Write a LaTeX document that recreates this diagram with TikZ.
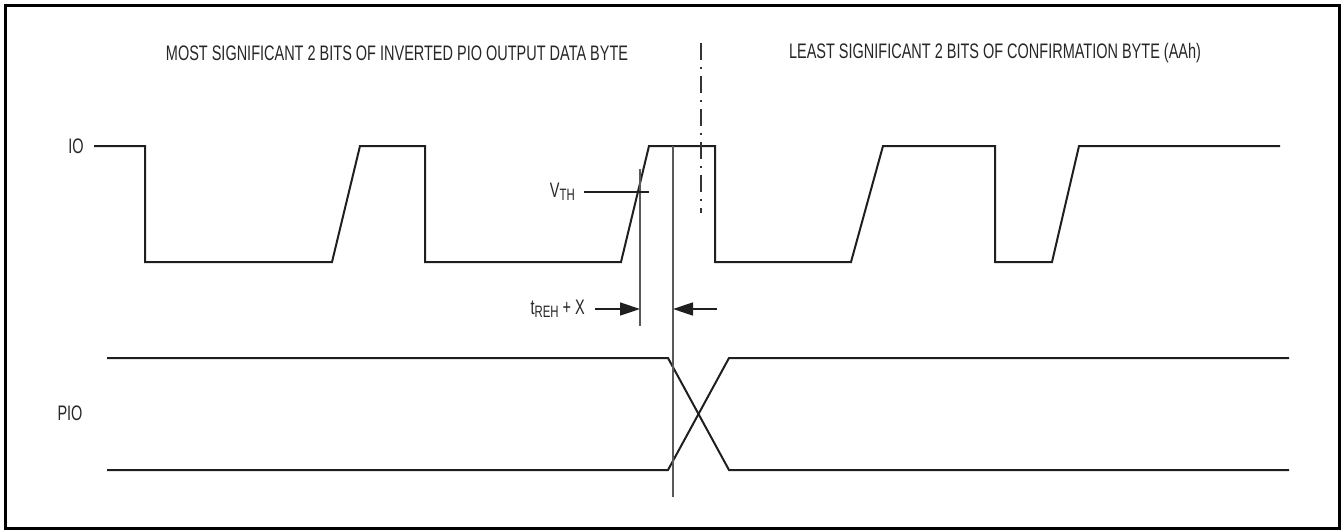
\documentclass[tikz,border=0pt]{standalone}
\usepackage{fontspec}
\setmainfont{Liberation Sans}[FakeStretch=0.69]
\usetikzlibrary{arrows.meta}
\newcommand{\lbsub}[1]{\raisebox{-3pt}{\fontsize{16.5}{18}\selectfont #1}}
\begin{document}
\begin{tikzpicture}[x=1pt,y=-1pt,
  lbl/.style={inner sep=0pt,font=\fontsize{21}{25}\selectfont,text=black!85},
  wave/.style={line width=2pt,line join=miter,black!88},
  guide/.style={line width=1.5pt,black!65},
  frm/.style={line width=2.5pt,black},
  dashdot/.style={line width=1.5pt,black!80,dash pattern=on 17pt off 7pt on 2pt off 7pt},
  tip/.style={line width=1.5pt,black!88,-{Triangle[length=20pt,width=13pt]}}]
\useasboundingbox (0,0) rectangle (1342,531);
\draw[frm] (5.5,5.5) rectangle (1339.5,528.5);

% titles
\node[lbl] (t1) at (397,53) {MOST SIGNIFICANT 2 BITS OF INVERTED PIO OUTPUT DATA BYTE};
\node[lbl] (t2) at (995,53) {LEAST SIGNIFICANT 2 BITS OF CONFIRMATION BYTE (AAh)};

% signal labels
\node[lbl] (io) at (76,146) {IO};
\node[lbl] (pio) at (70,413) {PIO};

% IO waveform
\draw[wave] (94,146) -- (145,146) -- (145,262) -- (332,262) -- (360,146) -- (425,146)
  -- (425,262) -- (621,262) -- (649,146) -- (715,146) -- (715,262) -- (851,262)
  -- (883,146) -- (995,146) -- (995,262) -- (1052,262) -- (1079,146) -- (1280,146);

% PIO waveform
\draw[wave] (107,358) -- (668,358) -- (729,470) -- (1289,470);
\draw[wave] (107,470) -- (668,470) -- (729,358) -- (1289,358);

% dash-dot boundary
\coordinate (dtop) at (701,43);
\coordinate (dbot) at (701,213);
\draw[dashdot] (dtop) -- (dbot);

% guides
\coordinate (g1t) at (673,146);
\coordinate (g1b) at (673,497);
\draw[guide] (g1t) -- (g1b);
\coordinate (g2t) at (640,169);
\coordinate (g2b) at (640,326);
\draw[guide] (g2t) -- (g2b);

% VTH
\node[lbl,anchor=east] (vth) at (575,192) {V\lbsub{TH}};
\coordinate (vthe) at (649,192);
\draw[guide,black!88] (584,192) -- (vthe);

% tREH + X
\node[lbl,anchor=east] (treh) at (585,309) {t\lbsub{REH} + X};
\coordinate (a1s) at (595,309);
\coordinate (a1e) at (640,309);
\coordinate (a2s) at (717,309);
\coordinate (a2e) at (673,309);
\draw[tip] (a1s) -- (a1e);
\draw[tip] (a2s) -- (a2e);
\end{tikzpicture}
\end{document}
